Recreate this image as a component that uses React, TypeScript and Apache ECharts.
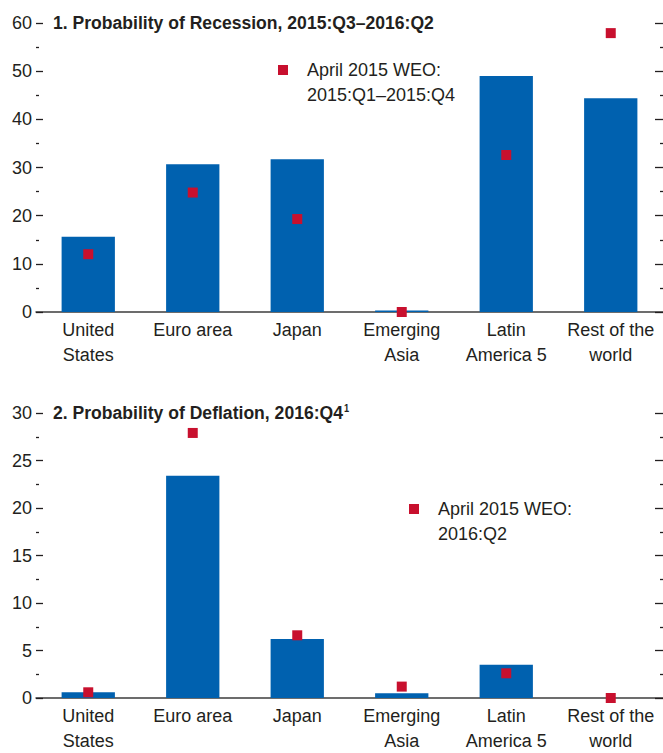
import React, { useEffect, useRef } from "react";
import * as echarts from "echarts";

const categories = [
  "United\nStates",
  "Euro area",
  "Japan",
  "Emerging\nAsia",
  "Latin\nAmerica 5",
  "Rest of the\nworld",
];

const recessionCurrent = [15.6, 30.7, 31.7, 0.3, 49.0, 44.4];
const recessionApril2015 = [12.0, 24.8, 19.3, 0.0, 32.6, 57.9];
const recessionTicks = [0, 10, 20, 30, 40, 50, 60];

const deflationCurrent = [0.6, 23.4, 6.2, 0.5, 3.5, 0.0];
const deflationApril2015 = [0.6, 27.9, 6.6, 1.2, 2.6, 0.0];
const deflationTicks = [0, 5, 10, 15, 20, 25, 30];

const title1 = "1. Probability of Recession, 2015:Q3\u20132016:Q2";
const title2 = "2. Probability of Deflation, 2016:Q4";
const title2Note = "1";
const legend1 = "April 2015 WEO:\n2015:Q1\u20132015:Q4";
const legend2 = "April 2015 WEO:\n2016:Q2";

const FONT = "'Liberation Sans', Arial, sans-serif";
const TEXT = "#231f20";
const BLUE = "#0061af";
const RED = "#c8102e";

function yAxes(gridIndex: number, ticks: number[]) {
  const min = ticks[0];
  const max = ticks[ticks.length - 1];
  const interval = ticks[1] - ticks[0];
  const base = {
    type: "value",
    gridIndex,
    min,
    max,
    interval,
    splitLine: { show: false },
    axisLine: { show: false },
  };
  return [
    {
      ...base,
      position: "left",
      axisTick: { show: true, inside: true, length: 7, lineStyle: { color: TEXT, width: 1.3 } },
      minorTick: { show: true, splitNumber: 2, length: 3, lineStyle: { color: TEXT, width: 1.3 } },
      axisLabel: { show: true, fontSize: 18, color: TEXT, fontFamily: FONT, margin: 4 },
    },
    {
      ...base,
      position: "right",
      axisTick: { show: true, inside: true, length: 8, lineStyle: { color: TEXT, width: 1.3 } },
      minorTick: { show: true, splitNumber: 2, length: 3, lineStyle: { color: TEXT, width: 1.3 } },
      axisLabel: { show: false },
    },
  ];
}

function xAxis(gridIndex: number) {
  return {
    type: "category",
    gridIndex,
    data: categories,
    axisLine: { show: true, lineStyle: { color: "#3c3c3c", width: 1.5 } },
    axisTick: { show: false },
    axisLabel: {
      interval: 0,
      fontSize: 18,
      lineHeight: 25,
      color: TEXT,
      fontFamily: FONT,
      margin: 5,
    },
  };
}

function legendGraphic(cx: number, cy: number, textX: number, text: string) {
  return [
    {
      type: "rect",
      shape: { x: cx - 5, y: cy - 5, width: 10, height: 10 },
      style: { fill: RED },
      z: 100,
    },
    {
      type: "text",
      x: textX,
      y: cy - 12.5,
      style: {
        text,
        fontSize: 18,
        lineHeight: 25,
        fill: TEXT,
        fontFamily: FONT,
        verticalAlign: "top",
        align: "left",
      },
      z: 100,
    },
  ];
}

function titleGraphic(x: number, cy: number, text: string) {
  return {
    type: "text",
    x,
    y: cy,
    scaleX: 0.925,
    style: {
      text,
      fontSize: 19,
      fontWeight: "bold",
      fill: TEXT,
      fontFamily: FONT,
      verticalAlign: "middle",
      align: "left",
      rich: {
        sup: {
          fontSize: 10,
          fontWeight: "bold",
          fill: TEXT,
          fontFamily: FONT,
          padding: [0, 0, 9, 1],
        },
      },
    },
    z: 100,
  };
}

export default function App() {
  const ref = useRef<HTMLDivElement>(null);

  useEffect(() => {
    if (!ref.current) return;
    const chart = echarts.init(ref.current, undefined, { renderer: "svg" });
    chart.setOption({
      animation: false,
      backgroundColor: "#ffffff",
      grid: [
        { left: 36, right: 0, top: 23, height: 289, containLabel: false },
        { left: 36, right: 0, top: 413, height: 289, containLabel: false },
      ],
      xAxis: [xAxis(0), xAxis(1)],
      yAxis: [...yAxes(0, recessionTicks), ...yAxes(1, deflationTicks)],
      series: [
        {
          type: "bar",
          name: "Recession",
          xAxisIndex: 0,
          yAxisIndex: 0,
          data: recessionCurrent,
          barWidth: "51%",
          itemStyle: { color: BLUE },
        },
        {
          type: "scatter",
          name: "April 2015 WEO: 2015:Q1\u20132015:Q4",
          xAxisIndex: 0,
          yAxisIndex: 0,
          data: recessionApril2015,
          symbol: "rect",
          symbolSize: 10,
          itemStyle: { color: RED, opacity: 1 },
          z: 10,
        },
        {
          type: "bar",
          name: "Deflation",
          xAxisIndex: 1,
          yAxisIndex: 2,
          data: deflationCurrent,
          barWidth: "51%",
          itemStyle: { color: BLUE },
        },
        {
          type: "scatter",
          name: "April 2015 WEO: 2016:Q2",
          xAxisIndex: 1,
          yAxisIndex: 2,
          data: deflationApril2015,
          symbol: "rect",
          symbolSize: 10,
          itemStyle: { color: RED, opacity: 1 },
          z: 10,
        },
      ],
      graphic: [
        titleGraphic(53, 22.5, title1),
        titleGraphic(53, 412.5, title2 + "{sup|" + title2Note + "}"),
        ...legendGraphic(283, 70, 307, legend1),
        ...legendGraphic(414, 509, 438, legend2),
      ],
    });
    return () => chart.dispose();
  }, []);

  return (
    <div
      ref={ref}
      style={{ position: "absolute", left: 0, top: 0, width: 663, height: 753, background: "#fff" }}
    />
  );
}
